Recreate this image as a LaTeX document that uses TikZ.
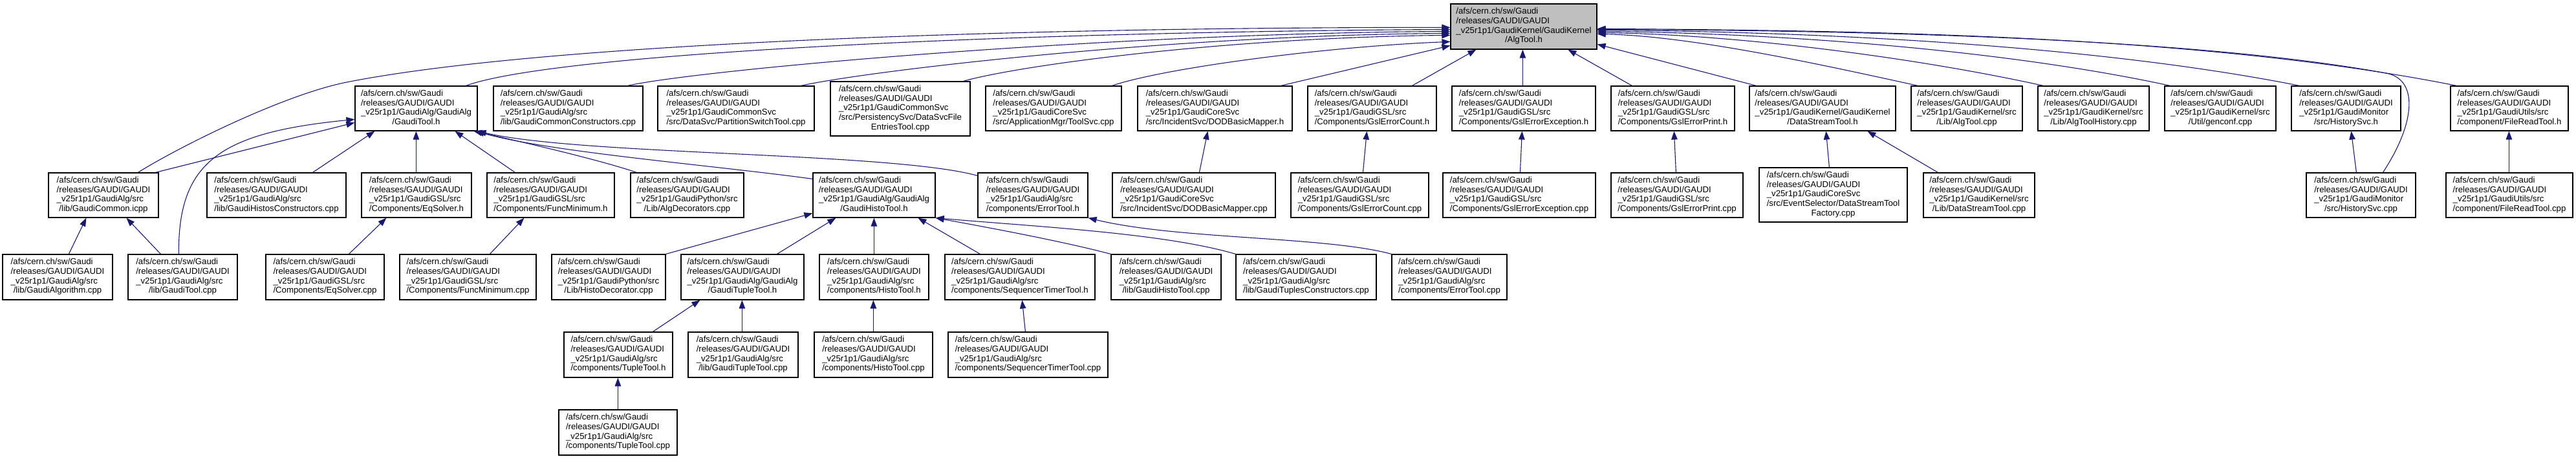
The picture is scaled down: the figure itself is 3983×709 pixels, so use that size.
\documentclass[tikz,border=0pt]{standalone}
\usepackage{fontspec}
\setmainfont{Liberation Sans}
\usetikzlibrary{arrows.meta}
\definecolor{navy}{HTML}{191970}
\definecolor{rootgray}{HTML}{BFBFBF}
\newcommand\lab[2]{\begin{tabular}{@{}l@{}}/afs/cern.ch/sw/Gaudi\\/releases/GAUDI/GAUDI\\\_v25r1p1/#1\\\multicolumn{1}{@{}c@{}}{#2}\end{tabular}}
\newcommand\labv[3]{\begin{tabular}{@{}l@{}}/afs/cern.ch/sw/Gaudi\\/releases/GAUDI/GAUDI\\\_v25r1p1/#1\\#2\\\multicolumn{1}{@{}c@{}}{#3}\end{tabular}}
\newcommand\bx[5]{\node[box,minimum width={#3-#2},minimum height={#5-#4}] (#1) at ({(#2+#3)/2},{(#4+#5)/2})}
\tikzset{
  box/.style={draw=black, line width=1.2pt, inner sep=0pt, fill=white,
    font=\fontsize{13.2}{14.7}\selectfont},
  dep/.style={draw=navy, line width=1.1pt, -{Triangle[length=13pt,width=9.5pt]}, navy}
}
\begin{document}
\begin{tikzpicture}[x=1pt,y=-1pt]
\fill[white] (0,0) rectangle (3983,709);
\useasboundingbox (0,0) rectangle (3983,709);
% root
\node[box, fill=rootgray, minimum width=226, minimum height=70] (root) at (2356,41) {\lab{GaudiKernel/GaudiKernel}{/AlgTool.h}};
% row 2
\bx{gtool}{549}{738}{133}{202}{\lab{GaudiAlg/GaudiAlg}{/GaudiTool.h}};
\bx{gcc}{763}{994}{133}{202}{\lab{GaudiAlg/src}{/lib/GaudiCommonConstructors.cpp}};
\bx{pst}{1017}{1259}{133}{202}{\lab{GaudiCommonSvc}{/src/DataSvc/PartitionSwitchTool.cpp}};
\bx{dsfe}{1284}{1500}{126}{210}{\labv{GaudiCommonSvc}{/src/PersistencySvc/DataSvcFile}{EntriesTool.cpp}};
\bx{toolsvc}{1524}{1734}{133}{202}{\lab{GaudiCoreSvc}{/src/ApplicationMgr/ToolSvc.cpp}};
\bx{dodh}{1759}{1998}{133}{202}{\lab{GaudiCoreSvc}{/src/IncidentSvc/DODBasicMapper.h}};
\bx{gech}{2022}{2221}{133}{202}{\lab{GaudiGSL/src}{/Components/GslErrorCount.h}};
\bx{geeh}{2245}{2467}{133}{202}{\lab{GaudiGSL/src}{/Components/GslErrorException.h}};
\bx{geph}{2491}{2682}{133}{202}{\lab{GaudiGSL/src}{/Components/GslErrorPrint.h}};
\bx{dsth}{2705}{2931}{133}{202}{\lab{GaudiKernel/GaudiKernel}{/DataStreamTool.h}};
\bx{atcpp}{2955}{3127}{133}{202}{\lab{GaudiKernel/src}{/Lib/AlgTool.cpp}};
\bx{athcpp}{3151}{3323}{133}{202}{\lab{GaudiKernel/src}{/Lib/AlgToolHistory.cpp}};
\bx{genconf}{3347}{3519}{133}{202}{\lab{GaudiKernel/src}{/Util/genconf.cpp}};
\bx{hsh}{3543}{3712}{133}{202}{\lab{GaudiMonitor}{/src/HistorySvc.h}};
\bx{frth}{3789}{3971}{133}{202}{\lab{GaudiUtils/src}{/component/FileReadTool.h}};
% row 3
\bx{gcicpp}{75}{245}{267}{336}{\lab{GaudiAlg/src}{/lib/GaudiCommon.icpp}};
\bx{ghc}{320}{535}{267}{336}{\lab{GaudiAlg/src}{/lib/GaudiHistosConstructors.cpp}};
\bx{eqh}{559}{729}{267}{336}{\lab{GaudiGSL/src}{/Components/EqSolver.h}};
\bx{fmh}{753}{950}{267}{336}{\lab{GaudiGSL/src}{/Components/FuncMinimum.h}};
\bx{algdec}{975}{1150}{267}{336}{\lab{GaudiPython/src}{/Lib/AlgDecorators.cpp}};
\bx{ghth}{1257}{1446}{267}{336}{\lab{GaudiAlg/GaudiAlg}{/GaudiHistoTool.h}};
\bx{erth}{1512}{1682}{267}{336}{\lab{GaudiAlg/src}{/components/ErrorTool.h}};
\bx{dodcpp}{1720}{1972}{267}{336}{\lab{GaudiCoreSvc}{/src/IncidentSvc/DODBasicMapper.cpp}};
\bx{gecc}{1996}{2209}{267}{336}{\lab{GaudiGSL/src}{/Components/GslErrorCount.cpp}};
\bx{geec}{2231}{2467}{267}{336}{\lab{GaudiGSL/src}{/Components/GslErrorException.cpp}};
\bx{gepc}{2491}{2695}{267}{336}{\lab{GaudiGSL/src}{/Components/GslErrorPrint.cpp}};
\bx{dstf}{2720}{2949}{259}{343}{\labv{GaudiCoreSvc}{/src/EventSelector/DataStreamTool}{Factory.cpp}};
\bx{dstc}{2974}{3146}{267}{336}{\lab{GaudiKernel/src}{/Lib/DataStreamTool.cpp}};
\bx{hsc}{3566}{3735}{267}{336}{\lab{GaudiMonitor}{/src/HistorySvc.cpp}};
\bx{frtc}{3782}{3978}{267}{336}{\lab{GaudiUtils/src}{/component/FileReadTool.cpp}};
% row 4
\bx{galg}{4}{174}{393}{463}{\lab{GaudiAlg/src}{/lib/GaudiAlgorithm.cpp}};
\bx{gtc}{198}{367}{393}{463}{\lab{GaudiAlg/src}{/lib/GaudiTool.cpp}};
\bx{eqc}{411}{594}{393}{463}{\lab{GaudiGSL/src}{/Components/EqSolver.cpp}};
\bx{fmc}{618}{829}{393}{463}{\lab{GaudiGSL/src}{/Components/FuncMinimum.cpp}};
\bx{hdec}{853}{1029}{393}{463}{\lab{GaudiPython/src}{/Lib/HistoDecorator.cpp}};
\bx{gtth}{1053}{1243}{393}{463}{\lab{GaudiAlg/GaudiAlg}{/GaudiTupleTool.h}};
\bx{hth}{1267}{1436}{393}{463}{\lab{GaudiAlg/src}{/components/HistoTool.h}};
\bx{stth}{1461}{1693}{393}{463}{\lab{GaudiAlg/src}{/components/SequencerTimerTool.h}};
\bx{ghtc}{1718}{1888}{393}{463}{\lab{GaudiAlg/src}{/lib/GaudiHistoTool.cpp}};
\bx{gtcons}{1911}{2128}{393}{463}{\lab{GaudiAlg/src}{/lib/GaudiTuplesConstructors.cpp}};
\bx{ertc}{2152}{2330}{393}{463}{\lab{GaudiAlg/src}{/components/ErrorTool.cpp}};
% row 5
\bx{tth}{872}{1040}{513}{583}{\lab{GaudiAlg/src}{/components/TupleTool.h}};
\bx{gttc}{1064}{1234}{513}{583}{\lab{GaudiAlg/src}{/lib/GaudiTupleTool.cpp}};
\bx{htc}{1259}{1442}{513}{583}{\lab{GaudiAlg/src}{/components/HistoTool.cpp}};
\bx{stc}{1466}{1713}{513}{583}{\lab{GaudiAlg/src}{/components/SequencerTimerTool.cpp}};
% row 6
\bx{ttc}{864}{1047}{633}{703}{\lab{GaudiAlg/src}{/components/TupleTool.cpp}};

% edges into root from the left
\draw[dep] ([xshift=139pt]gcicpp.north west) .. controls (280,225) and (440,146) .. (536,127) .. controls (850,65) and (1600,42) .. ([yshift=-37pt]root.north west);
\draw[dep] ([xshift=172pt]gtool.north west) .. controls (850,85) and (1500,50) .. ([yshift=-40pt]root.north west);
\draw[dep] ([xshift=208pt]gcc.north west) .. controls (1080,108) and (1700,52) .. ([yshift=-43pt]root.north west);
\draw[dep] ([xshift=222pt]pst.north west) .. controls (1340,110) and (1800,55) .. ([yshift=-46pt]root.north west);
\draw[dep] ([xshift=206pt]dsfe.north west) .. controls (1580,100) and (1900,58) .. ([yshift=-49pt]root.north west);
\draw[dep] ([xshift=196pt]toolsvc.north west) .. controls (1800,105) and (2050,72) .. ([yshift=-59pt]root.north west);
\draw[dep] ([xshift=222pt]dodh.north west) -- ([yshift=-65pt]root.north west);
% from below
\draw[dep] ([xshift=162pt]gech.north west) -- ([xshift=40pt]root.south west);
\draw[dep] ([xshift=110pt]geeh.north west) -- ([xshift=112pt]root.south west);
\draw[dep] ([xshift=33pt]geph.north west) -- ([xshift=182pt]root.south west);
% from the right
\draw[dep] ([xshift=11pt]dsth.north west) -- ([yshift=-63pt]root.north east);
\draw[dep] ([xshift=11pt]atcpp.north west) .. controls (2817,100) and (2618,56) .. ([yshift=-47pt]root.north east);
\draw[dep] ([xshift=9pt]athcpp.north west) .. controls (2953,87) and (2676,53) .. ([yshift=-45pt]root.north east);
\draw[dep] ([xshift=9pt]genconf.north west) .. controls (3090,75) and (2735,51) .. ([yshift=-43pt]root.north east);
\draw[dep] ([xshift=13pt]hsh.north west) .. controls (3230,68) and (2795,49) .. ([yshift=-41pt]root.north east);
\draw[dep] ([xshift=10pt]frth.north west) .. controls (3400,53) and (2868,47) .. ([yshift=-39pt]root.north east);
\draw[dep] ([xshift=119pt]hsc.north west) .. controls (3735,190) and (3740,122) .. (3689,113) .. controls (3400,60) and (2900,47) .. ([yshift=-40pt]root.north east);

% into GaudiTool.h
\draw[dep] ([xshift=166pt]gcicpp.north west) -- ([yshift=-57pt]gtool.north west);
\draw[dep] ([xshift=79pt]gtc.north west) .. controls (275,250) and (340,205) .. ([yshift=-52pt]gtool.north west);
\draw[dep] ([xshift=164pt]ghc.north west) -- ([xshift=31pt]gtool.south west);
\draw[dep] ([xshift=85pt]eqh.north west) -- ([xshift=95pt]gtool.south west);
\draw[dep] ([xshift=44pt]fmh.north west) -- ([xshift=155pt]gtool.south west);
\draw[dep] ([xshift=10pt]algdec.north west) .. controls (930,248) and (820,222) .. ([xshift=184pt]gtool.south west);
\draw[dep] ([yshift=-10pt]ghth.north west) .. controls (1100,255) and (850,235) .. ([xshift=-3pt]gtool.south east);
\draw[dep] ([yshift=-5pt]erth.north west) .. controls (1380,235) and (900,240) .. (gtool.south east);

% into GaudiCommon.icpp, EqSolver.h, FuncMinimum.h
\draw[dep] ([xshift=103pt]galg.north west) -- ([xshift=59pt]gcicpp.south west);
\draw[dep] ([xshift=51pt]gtc.north west) -- ([xshift=121pt]gcicpp.south west);
\draw[dep] ([xshift=129pt]eqc.north west) -- ([xshift=39pt]eqh.south west);
\draw[dep] ([xshift=140pt]fmc.north west) -- ([xshift=58pt]fmh.south west);

% into GaudiHistoTool.h
\draw[dep] (hdec.north east) -- ([yshift=-63pt]ghth.north west);
\draw[dep] ([xshift=149pt]gtth.north west) -- ([xshift=36pt]ghth.south west);
\draw[dep] ([xshift=85pt]hth.north west) -- ([xshift=95pt]ghth.south west);
\draw[dep] ([xshift=55pt]stth.north west) -- ([xshift=163pt]ghth.south west);
\draw[dep] (ghtc.north west) .. controls (1640,372) and (1520,350) .. (ghth.south east);
\draw[dep] (gtcons.north west) .. controls (1800,360) and (1600,350) .. (ghth.south east);
% into ErrorTool.h
\draw[dep] (ertc.north west) .. controls (2050,365) and (1820,370) .. (erth.south east);

% lower levels
\draw[dep] ([xshift=138pt]tth.north west) -- ([xshift=30pt]gtth.south west);
\draw[dep] ([xshift=84pt]gttc.north west) -- ([xshift=95pt]gtth.south west);
\draw[dep] ([xshift=92pt]ttc.north west) -- ([xshift=84pt]tth.south west);
\draw[dep] ([xshift=92pt]htc.north west) -- ([xshift=84pt]hth.south west);
\draw[dep] ([xshift=120pt]stc.north west) -- ([xshift=120pt]stth.south west);
\draw[dep] ([xshift=135pt]dodcpp.north west) -- ([xshift=109pt]dodh.south west);
\draw[dep] ([xshift=112pt]gecc.north west) -- ([xshift=92pt]gech.south west);
\draw[dep] ([xshift=120pt]geec.north west) -- ([xshift=109pt]geeh.south west);
\draw[dep] ([xshift=101pt]gepc.north west) -- ([xshift=98pt]geph.south west);
\draw[dep] ([xshift=109pt]dstf.north west) -- ([xshift=119pt]dsth.south west);
\draw[dep] ([xshift=23pt]dstc.north west) -- ([xshift=183pt]dsth.south west);
\draw[dep] ([xshift=78pt]hsc.north west) -- ([xshift=93pt]hsh.south west);
\draw[dep] ([xshift=98pt]frtc.north west) -- ([xshift=91pt]frth.south west);
\end{tikzpicture}
\end{document}
